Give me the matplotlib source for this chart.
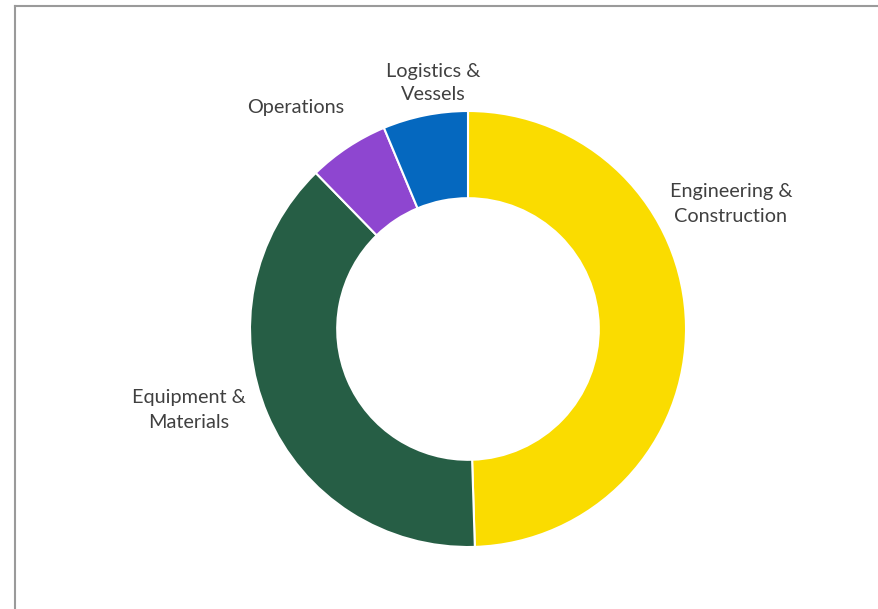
import matplotlib
matplotlib.use('Agg')
import matplotlib.pyplot as plt
from matplotlib.lines import Line2D

# segment shares, clockwise from 12 o'clock
segments = ['Engineering &\nConstruction', 'Equipment &\nMaterials',
            'Operations', 'Logistics &\nVessels']
shares = [49.5, 38.2, 6.0, 6.3]
colors = ['#FADC00', '#265E45', '#8E46D0', '#0568BF']

W, H = 879, 609
CX, CY, R = 468, 329, 218  # ring centre / outer radius in pixels

fig = plt.figure(figsize=(W / 100, H / 100), dpi=100)
ax = fig.add_axes([0, 0, 1, 1])
ax.pie(shares, colors=colors, startangle=90, counterclock=False,
       radius=1.0, wedgeprops=dict(width=0.4, edgecolor='white', linewidth=1.5))
ax.set_xlim(-CX / R, (W - CX) / R)
ax.set_ylim(-(H - CY) / R, CY / R)
ax.set_aspect('equal')
ax.axis('off')

# label anchor points (pixel coords, y from top)
label_pos = [(731, 204), (189, 410), (296, 107), (433, 83)]
for name, (px, py) in zip(segments, label_pos):
    fig.text(px / W, 1 - py / H, name, ha='center', va='center',
             multialignment='center', fontsize=14.3, family='Lato',
             color='#404040', linespacing=1.5)

# frame lines along the top and left edge
fig.add_artist(Line2D([15 / W, 1], [1 - 6 / H, 1 - 6 / H], color='#9A9A9A', lw=1.5))
fig.add_artist(Line2D([15 / W, 15 / W], [0, 1 - 6 / H], color='#9A9A9A', lw=1.5))

fig.savefig('out.png', dpi=100, facecolor='white')
